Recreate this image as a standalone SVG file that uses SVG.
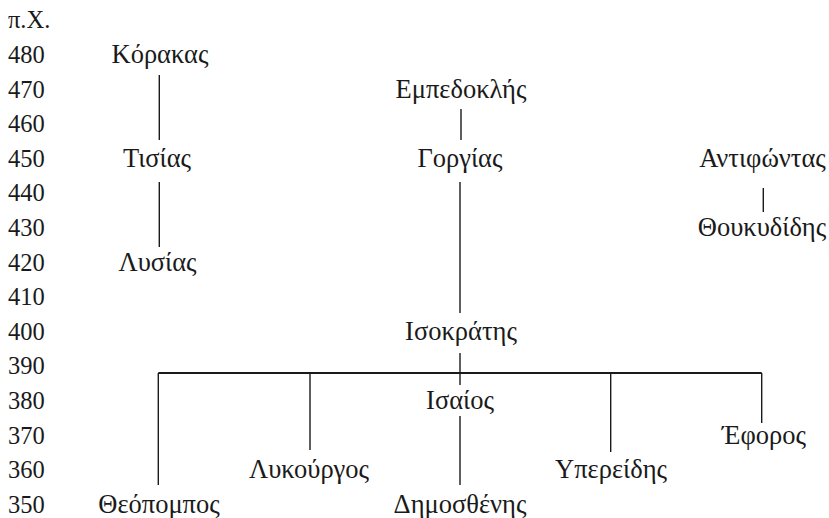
<svg xmlns="http://www.w3.org/2000/svg" width="829" height="518" viewBox="0 0 829 518">
<style>
text{font-family:"Liberation Serif","Times New Roman",serif;font-size:24.5px;fill:#1a1a1a}
.n{text-anchor:middle;font-size:26.5px}
.c line{stroke:#1a1a1a;stroke-width:1.4;fill:none}
.c line.bar{stroke-width:2}
</style>
<rect width="829" height="518" fill="#fff"/>
<g id="axis">
<text x="8" y="28.4">π.Χ.</text>
<text x="8" y="63">480</text>
<text x="8" y="97.6">470</text>
<text x="8" y="132.2">460</text>
<text x="8" y="166.8">450</text>
<text x="8" y="201.4">440</text>
<text x="8" y="236">430</text>
<text x="8" y="270.6">420</text>
<text x="8" y="305.2">410</text>
<text x="8" y="339.8">400</text>
<text x="8" y="374.4">390</text>
<text x="8" y="409">380</text>
<text x="8" y="443.6">370</text>
<text x="8" y="478.2">360</text>
<text x="8" y="512.8">350</text>
</g>
<g class="c" id="connectors">
<line x1="159.3" y1="75" x2="159.3" y2="140"/>
<line x1="159.3" y1="182" x2="159.3" y2="247"/>
<line x1="461" y1="109" x2="461" y2="140"/>
<line x1="460" y1="182" x2="460" y2="313"/>
<line x1="460" y1="353" x2="460" y2="385"/>
<line class="bar" x1="158.3" y1="373" x2="761.7" y2="373"/>
<line x1="158.3" y1="373" x2="158.3" y2="485"/>
<line x1="310" y1="373" x2="310" y2="450"/>
<line x1="610.7" y1="373" x2="610.7" y2="452"/>
<line x1="761.7" y1="373" x2="761.7" y2="423"/>
<line x1="460" y1="416" x2="460" y2="485"/>
<line x1="763.3" y1="188" x2="763.3" y2="212"/>
</g>
<g id="korakas"><text class="n" x="160" y="63">Κόρακας</text></g>
<g id="tisias"><text class="n" x="157" y="166.8">Τισίας</text></g>
<g id="lysias"><text class="n" x="157.5" y="270.6">Λυσίας</text></g>
<g id="empedokles"><text class="n" x="461" y="97.6">Εμπεδοκλής</text></g>
<g id="gorgias"><text class="n" x="460" y="166.8">Γοργίας</text></g>
<g id="antifontas"><text class="n" x="762.5" y="166.8">Αντιφώντας</text></g>
<g id="thoukydides"><text class="n" x="762" y="236">Θουκυδίδης</text></g>
<g id="isokrates"><text class="n" x="461" y="339.8">Ισοκράτης</text></g>
<g id="isaios"><text class="n" x="460" y="409">Ισαίος</text></g>
<g id="ephoros"><text class="n" x="764" y="443.6">Έφορος</text></g>
<g id="lykourgos"><text class="n" x="309" y="478.2">Λυκούργος</text></g>
<g id="ypereides"><text class="n" x="611" y="478.2">Υπερείδης</text></g>
<g id="theopompos"><text class="n" x="159" y="512.8">Θεόπομπος</text></g>
<g id="demosthenes"><text class="n" x="460" y="512.8">Δημοσθένης</text></g>
</svg>
